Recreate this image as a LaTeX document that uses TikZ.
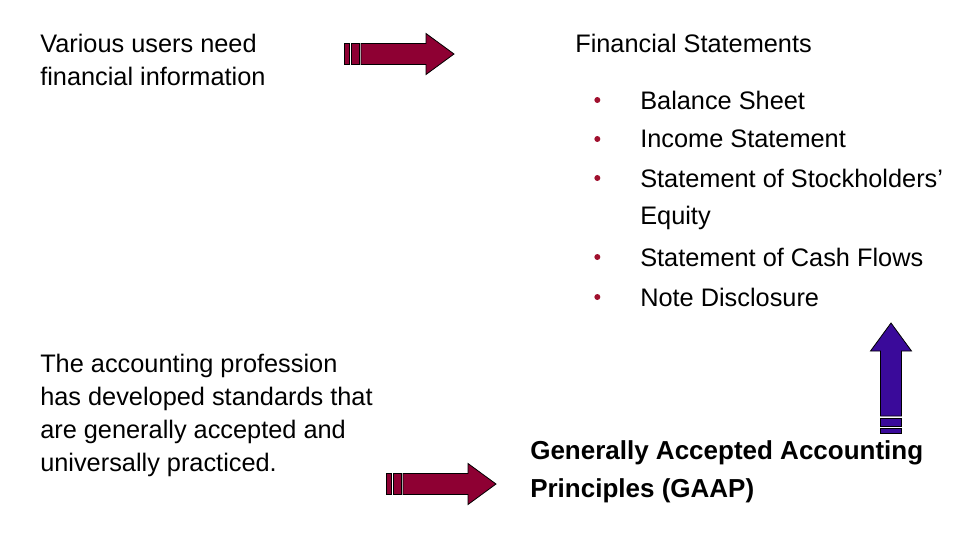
\documentclass[tikz,border=0pt]{standalone}
\usepackage{fontspec}
\setmainfont{Liberation Sans}
\usetikzlibrary{positioning}
\definecolor{arrowred}{HTML}{8E0033}
\definecolor{arrowblue}{HTML}{3A0A9A}
\definecolor{dotred}{HTML}{A0102E}
\tikzset{
  txt/.style={anchor=north west, align=left, inner sep=0pt, font=\fontsize{19}{24.8}\selectfont},
  item/.style={anchor=west, inner sep=0pt, font=\fontsize{19}{24.8}\selectfont, align=left},
  dot/.style={circle, fill=dotred, inner sep=0pt, minimum size=4.5pt}
}
% striped block arrow: tail x,y ; angle ; colour
\newcommand{\stripedarrow}[4]{
  \begin{scope}[shift={(#1,#2)}, rotate=#3]
    \fill[#4, draw=black, line width=0.6pt] (0,-10.5) rectangle (5,10.5);
    \fill[#4, draw=black, line width=0.6pt] (7,-10.5) rectangle (15,10.5);
    \fill[#4, draw=black, line width=0.6pt] (17,-10.5) -- (82,-10.5) -- (82,-20.5) -- (110,0)
      -- (82,20.5) -- (82,10.5) -- (17,10.5) -- cycle;
  \end{scope}
}

\begin{document}
\begin{tikzpicture}[x=0.75pt, y=0.75pt]
    \useasboundingbox (0,0) rectangle (974,-550);

    \node(users)[txt] at (40,-34) {Various users need\\financial information};
    \node(fs)[txt] at (575,-34) {Financial Statements};

    \node(b1)[item] at (640,-100) {Balance Sheet};
    \node(b2)[item] at (640,-139) {Income Statement};
    \node(b3)[item] at (640,-178) {Statement of Stockholders’};
    \node(b3b)[item] at (640,-218) {Equity};
    \node(b4)[item] at (640,-257) {Statement of Cash Flows};
    \node(b5)[item] at (640,-297) {Note Disclosure};
    \foreach \b in {b1,b2,b3,b4,b5}
      \node[dot] at ([xshift=-32pt]\b.west) {};

    \node(prof)[txt] at (40,-354) {The accounting profession\\has developed standards that\\are generally accepted and\\universally practiced.};
    \node(gaap)[txt, font=\fontsize{19.5}{29}\selectfont\bfseries] at (530,-440) {Generally Accepted Accounting\\Principles (GAAP)};

    \stripedarrow{386}{-484}{0}{arrowred}
    \stripedarrow{344}{-54}{0}{arrowred}
    \stripedarrow{891}{-433}{90}{arrowblue}

\end{tikzpicture}
\end{document}
